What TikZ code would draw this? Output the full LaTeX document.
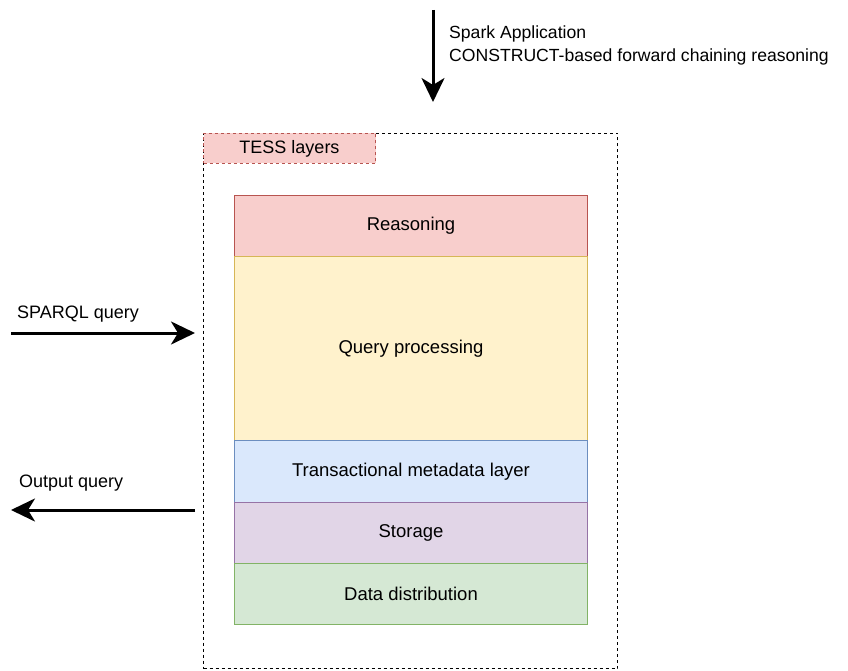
\documentclass[tikz,border=0pt]{standalone}
\usepackage{fontspec}
\setmainfont{Liberation Sans}
\usetikzlibrary{arrows.meta}
\definecolor{redf}{HTML}{F8CECC}\definecolor{redd}{HTML}{B85450}
\definecolor{yelf}{HTML}{FFF2CC}\definecolor{yeld}{HTML}{D6B656}
\definecolor{bluf}{HTML}{DAE8FC}\definecolor{blud}{HTML}{6C8EBF}
\definecolor{purf}{HTML}{E1D5E7}\definecolor{purd}{HTML}{9673A6}
\definecolor{grnf}{HTML}{D5E8D4}\definecolor{grnd}{HTML}{82B366}
\tikzset{
  layer/.style={draw, line width=1pt, anchor=north west, minimum width=353pt, inner sep=0pt, font=\fontsize{18.5}{22}\selectfont},
  lbl/.style={anchor=west, inner sep=0pt, align=left, font=\fontsize{18}{24}\selectfont},
  bigarrow/.style={line width=3pt, -{Stealth[length=24pt,width=23pt,inset=7pt]}},
  dashbox/.style={draw, line width=1pt, dash pattern=on 3pt off 3pt}
}
\begin{document}
\begin{tikzpicture}[x=1pt,y=-1pt]
\useasboundingbox (0,0) rectangle (848,671);
% container
\node[dashbox, anchor=north west, minimum width=414pt, minimum height=535pt, inner sep=0pt] (cont) at (203,133) {};
\node[dashbox, draw=redd, fill=redf, anchor=north west, minimum width=172pt, minimum height=30pt, inner sep=0pt, font=\fontsize{18}{22}\selectfont] (tess) at (203,133) {TESS layers};
% layers
\node[layer, fill=redf, draw=redd, minimum height=61pt] (reason) at (234,195) {Reasoning};
\node[layer, fill=yelf, draw=yeld, minimum height=184pt] (query) at (234,256) {Query processing};
\node[layer, fill=bluf, draw=blud, minimum height=62pt] (trans) at (234,440) {Transactional metadata layer};
\node[layer, fill=purf, draw=purd, minimum height=61pt] (stor) at (234,502) {Storage};
\node[layer, fill=grnf, draw=grnd, minimum height=61pt] (dist) at (234,563) {Data distribution};
% arrows
\coordinate (topstart) at (433,10);
\coordinate (topend) at (433,102);
\draw[bigarrow] (topstart) -- (topend);
\node[lbl, font=\fontsize{17.6}{23}\selectfont] (spark) at (449,45) {Spark Application\\CONSTRUCT-based forward chaining reasoning};
\coordinate (sqs) at (11,333);
\coordinate (sqe) at (195,333);
\draw[bigarrow] (sqs) -- (sqe);
\node[lbl] (sqlbl) at (17,314) {SPARQL query};
\coordinate (oqs) at (195,510);
\coordinate (oqe) at (11,510);
\draw[bigarrow] (oqs) -- (oqe);
\node[lbl] (oqlbl) at (19,483) {Output query};
\end{tikzpicture}
\end{document}
